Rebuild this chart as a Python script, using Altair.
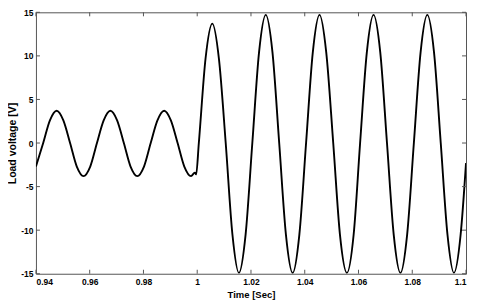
import altair as alt
import pandas as pd

# Time samples [s] and load voltage [V]
time_s = [0.9400, 0.9427, 0.9452, 0.9477, 0.9502, 0.9527, 0.9552, 0.9577,
          0.9602, 0.9627, 0.9652, 0.9677, 0.9702, 0.9727, 0.9752, 0.9777,
          0.9802, 0.9827, 0.9852, 0.9877, 0.9902, 0.9927, 0.9952, 0.9977,
          0.9991, 0.9996,
          1.0006, 1.0031, 1.0056, 1.0081, 1.0106, 1.0131, 1.0155,
          1.0180, 1.0205, 1.0230, 1.0255, 1.0280, 1.0305, 1.0330, 1.0355,
          1.0380, 1.0405, 1.0430, 1.0455, 1.0480, 1.0506, 1.0531, 1.0557,
          1.0582, 1.0606, 1.0631, 1.0656, 1.0681, 1.0706, 1.0731, 1.0756,
          1.0781, 1.0806, 1.0831, 1.0856, 1.0881, 1.0906, 1.0931, 1.0955,
          1.0980, 1.1000]
voltage = [-2.7, 0, 2.6, 3.7, 2.6, 0, -2.7, -3.8,
           -2.7, 0, 2.6, 3.7, 2.6, 0, -2.7, -3.8,
           -2.7, 0, 2.6, 3.7, 2.6, 0, -2.7, -3.8,
           -3.4, -3.6,
           0, 9.7, 13.7, 9.6, 0, -10.5, -14.9,
           -10.5, 0, 10.4, 14.7, 10.4, 0, -10.5, -14.9,
           -10.5, 0, 10.4, 14.7, 10.4, 0, -10.5, -14.9,
           -10.5, 0, 10.4, 14.7, 10.4, 0, -10.5, -14.9,
           -10.5, 0, 10.4, 14.7, 10.4, 0, -10.5, -14.9,
           -10.5, -2.3]

x_ticks = [0.94, 0.96, 0.98, 1, 1.02, 1.04, 1.06, 1.08, 1.1]
y_ticks = [-15, -10, -5, 0, 5, 10, 15]

W, H = 431, 262
FONT = "Liberation Sans"
FRAME = "#555555"

wave = pd.DataFrame({"t": time_s, "v": voltage})
xt = pd.DataFrame({"t": x_ticks})
yt = pd.DataFrame({"v": y_ticks})

xscale = alt.Scale(domain=[0.94, 1.1], nice=False, zero=False)
yscale = alt.Scale(domain=[-15, 15], nice=False, zero=False)

xaxis = alt.Axis(values=x_ticks, labelExpr="'' + datum.value",
                 ticks=False, domain=False, grid=False,
                 labelPadding=4, titlePadding=3, titleFontSize=9.5)
yaxis = alt.Axis(values=y_ticks, labelExpr="'' + datum.value",
                 ticks=False, domain=False, grid=False,
                 labelPadding=3, titlePadding=3, titleFontSize=10.5)

line = alt.Chart(wave).mark_line(
    color="black", strokeWidth=1.9, interpolate="monotone", clip=True
).encode(
    x=alt.X("t:Q", scale=xscale, title="Time [Sec]", axis=xaxis),
    y=alt.Y("v:Q", scale=yscale, title="Load voltage [V]", axis=yaxis),
)

tick_bottom = alt.Chart(xt).mark_rule(color=FRAME, strokeWidth=1).encode(
    x=alt.X("t:Q", scale=xscale, title="Time [Sec]", axis=xaxis),
    y=alt.value(H), y2=alt.value(H - 4))
tick_top = alt.Chart(xt).mark_rule(color=FRAME, strokeWidth=1).encode(
    x=alt.X("t:Q", scale=xscale, title="Time [Sec]", axis=xaxis),
    y=alt.value(0), y2=alt.value(4))
tick_left = alt.Chart(yt).mark_rule(color=FRAME, strokeWidth=1).encode(
    y=alt.Y("v:Q", scale=yscale, title="Load voltage [V]", axis=yaxis),
    x=alt.value(0), x2=alt.value(4))
tick_right = alt.Chart(yt).mark_rule(color=FRAME, strokeWidth=1).encode(
    y=alt.Y("v:Q", scale=yscale, title="Load voltage [V]", axis=yaxis),
    x=alt.value(W - 4), x2=alt.value(W))

chart = alt.layer(line, tick_bottom, tick_top, tick_left, tick_right).properties(
    width=W, height=H,
    autosize=alt.AutoSizeParams(type="none"),
    padding={"left": 28, "top": 4, "right": 6, "bottom": 27},
    background="white",
).configure_view(
    stroke=FRAME, strokeWidth=1
).configure_axis(
    labelFont=FONT, labelFontSize=8.5, labelFontWeight="bold", labelColor="black",
    titleFont=FONT, titleFontWeight="bold", titleColor="black",
)

chart.save("out.html", embed_options={"renderer": "svg", "actions": False})
